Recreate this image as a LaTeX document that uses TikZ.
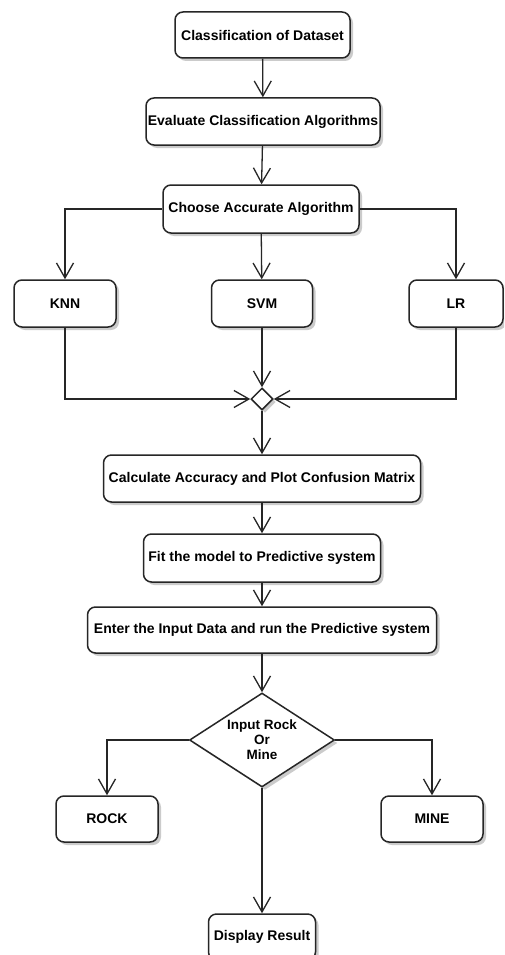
\documentclass[tikz,border=0pt]{standalone}
\usepackage{fontspec}
\setmainfont{Liberation Sans}
\usetikzlibrary{arrows.meta,shapes.geometric,shadows}
\begin{document}
\begin{tikzpicture}[x=1pt,y=-1pt,
  shad/.style={drop shadow={shadow xshift=3pt,shadow yshift=-3pt,fill=black!40,opacity=0.5}},
  box/.style={draw=black!85,line width=1.5pt,rounded corners=8pt,fill=white,shad,inner sep=0pt,
    font=\bfseries\fontsize{14}{16}\selectfont},
  dia/.style={draw=black!85,line width=1.5pt,diamond,fill=white,shad,inner sep=0pt,
    font=\bfseries\fontsize{13.5}{15}\selectfont,align=center},
  conn/.style={draw=black!85,line width=1.3pt,-{Straight Barb[length=15pt,width=17pt,line width=1.3pt]}}]
\useasboundingbox (0,0) rectangle (504,955);
\clip (0,0) rectangle (504,955);
\fill[white] (0,0) rectangle (504,955);

\node[box,minimum width=175pt,minimum height=46pt] (b1) at (262.5,35) {Classification of Dataset};
\node[box,minimum width=234pt,minimum height=47pt] (b2) at (263,121.5) {Evaluate Classification Algorithms};
\node[box,minimum width=196pt,minimum height=48pt] (b3) at (261,209) {Choose Accurate Algorithm};
\node[box,minimum width=102pt,minimum height=47pt] (knn) at (65,303.5) {KNN};
\node[box,minimum width=101pt,minimum height=47pt] (svm) at (262,303.5) {SVM};
\node[box,minimum width=94pt,minimum height=47pt] (lr) at (456,303.5) {LR};
\node[dia,minimum width=22pt,minimum height=22pt] (mg) at (262,399) {};
\node[box,minimum width=317pt,minimum height=47pt] (b4) at (262,478.5) {Calculate Accuracy and Plot Confusion Matrix};
\node[box,minimum width=237pt,minimum height=48pt] (b5) at (262,558) {Fit the model to Predictive system};
\node[box,minimum width=349pt,minimum height=46pt] (b6) at (262,630) {Enter the Input Data and run the Predictive system};
\node[dia,minimum width=145pt,minimum height=94pt,shape aspect=1.54] (dec) at (262,740) {Input Rock\\Or\\Mine};
\node[box,minimum width=102pt,minimum height=46pt] (rock) at (107,819) {ROCK};
\node[box,minimum width=102pt,minimum height=46pt] (mine) at (432,819) {MINE};
\node[box,minimum width=107pt,minimum height=46pt] (disp) at (262,937) {Display Result};

\draw[conn] (b1) -- (b2);
\draw[conn] (b2) -- (b3);
\draw[conn] (b3.west) -| (knn.north);
\draw[conn] (b3.east) -| (lr.north);
\draw[conn] (b3) -- (svm);
\draw[conn] (knn.south) |- (mg.west);
\draw[conn] (lr.south) |- (mg.east);
\draw[conn] (svm) -- (mg);
\draw[conn] (mg) -- (b4);
\draw[conn] (b4) -- (b5);
\draw[conn] (b5) -- (b6);
\draw[conn] (b6) -- (dec);
\draw[conn] (dec.west) -| (rock.north);
\draw[conn] (dec.east) -| (mine.north);
\draw[conn] (dec) -- (disp);
\end{tikzpicture}
\end{document}
